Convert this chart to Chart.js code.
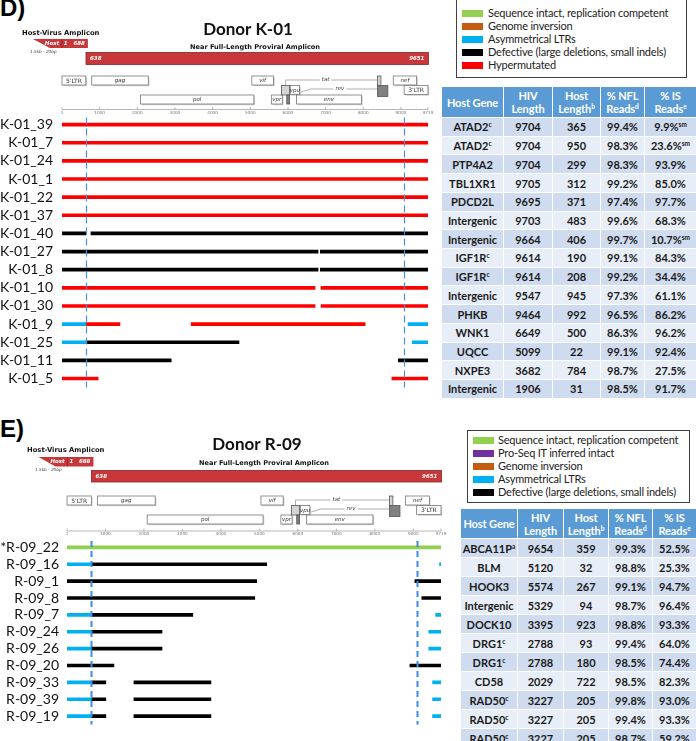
<!DOCTYPE html>
<html>
<head>
<meta charset="utf-8">
<script src="https://cdn.jsdelivr.net/npm/chart.js@4.4.1/dist/chart.umd.min.js"></script>
<style>
  body { margin: 0; width: 696px; height: 741px; overflow: hidden; background: #fff; position: relative; font-family: Lato, sans-serif; }
  canvas { position: absolute; left: 0; }
  .tag { position: absolute; left: 0; font: bold 24px "Liberation Sans", Arial, sans-serif; line-height: 24px; color: #000; }
  .legend { position: absolute; border: 1.5px solid #404040; box-sizing: border-box; background: #fff; }
  .legend .item { position: absolute; font: 11px Lato, sans-serif; letter-spacing: -0.2px; color: #222; white-space: nowrap; line-height: 13px; }
  .legend .sw { position: absolute; width: 21px; height: 7px; }
  table { position: absolute; border-collapse: collapse; table-layout: fixed; font-family: Lato, sans-serif; }
  th { background: #5b9bd5; color: #fff; font-weight: bold; font-size: 11px; letter-spacing: -0.1px; line-height: 13px; padding: 0; border: 1px solid #fff; white-space: nowrap; }
  td { font-weight: bold; font-size: 11px; color: #1a1a1a; text-align: center; padding: 0; border: 1px solid #fff; white-space: nowrap; }
  sup { font-size: 6.5px; line-height: 0; vertical-align: 4px; }
</style>
</head>
<body>
<div class="tag" style="top:-4px">D)</div>
<div class="tag" style="top:417px">E)</div>
<canvas id="k01" width="440" height="405" style="top:0"></canvas>
<canvas id="r09" width="455" height="321" style="top:420px"></canvas>
<div id="legendK"></div>
<div id="legendR"></div>
<div id="tableK"></div>
<div id="tableR"></div>

<script>
// ---- genome coordinates (HXB2) ----
const axisTicks = [1, 1000, 2000, 3000, 4000, 5000, 6000, 7000, 8000, 9000, 9719]
const ltrBoundaries = [634, 9086]
const hostAmplicon = [1, 688]
const nflAmplicon = [638, 9651]

const geneNames = ["5'LTR", 'gag', 'pol', 'vif', 'vpr', 'vpu', 'env', 'nef', "3'LTR"]
const geneStart = [1, 790, 2085, 5041, 5559, 6062, 6225, 8797, 9086]
const geneEnd = [634, 2292, 5096, 5619, 5850, 6310, 7950, 9417, 9719]
const geneRow = [0, 0, 2, 0, 2, 1, 2, 0, 1]

const exonNames = ['tat', 'tat', 'rev', 'rev']
const exonStart = [5831, 8379, 5970, 8379]
const exonEnd = [6045, 8469, 6045, 8653]

// ---- Donor K-01 ----
const k01Rows = ['K-01_39', 'K-01_7', 'K-01_24', 'K-01_1', 'K-01_22', 'K-01_37', 'K-01_40', 'K-01_27',
  'K-01_8', 'K-01_10', 'K-01_30', 'K-01_9', 'K-01_25', 'K-01_11', 'K-01_5']
const k01Segments = [
  [[1, 9719, 'hyper']],
  [[1, 9719, 'hyper']],
  [[1, 9719, 'hyper']],
  [[1, 9719, 'hyper']],
  [[1, 9719, 'hyper']],
  [[1, 9719, 'hyper']],
  [[1, 640, 'defective'], [770, 9719, 'defective']],
  [[1, 6800, 'defective'], [6860, 9719, 'defective']],
  [[1, 6800, 'defective'], [6860, 9719, 'defective']],
  [[1, 6720, 'hyper'], [6880, 9719, 'hyper']],
  [[1, 6720, 'hyper'], [6880, 9719, 'hyper']],
  [[1, 634, 'asym'], [634, 1540, 'hyper'], [3430, 8050, 'hyper'], [9190, 9719, 'asym']],
  [[1, 634, 'asym'], [634, 4700, 'defective'], [9300, 9719, 'asym']],
  [[1, 2900, 'defective'], [8930, 9719, 'defective']],
  [[1, 960, 'hyper'], [8760, 9719, 'hyper']]
]
const k01HostGene = ['ATAD2', 'ATAD2', 'PTP4A2', 'TBL1XR1', 'PDCD2L', 'Intergenic', 'Intergenic', 'IGF1R',
  'IGF1R', 'Intergenic', 'PHKB', 'WNK1', 'UQCC', 'NXPE3', 'Intergenic']
const k01GeneNote = ['c', 'c', '', '', '', '', '', 'c', 'c', '', '', '', '', '', '']
const k01HivLength = [9704, 9704, 9704, 9705, 9695, 9703, 9664, 9614, 9614, 9547, 9464, 6649, 5099, 3682, 1906]
const k01HostLength = [365, 950, 299, 312, 371, 483, 406, 190, 208, 945, 992, 500, 22, 784, 31]
const k01NflReads = [99.4, 98.3, 98.3, 99.2, 97.4, 99.6, 99.7, 99.1, 99.2, 97.3, 96.5, 86.3, 99.1, 98.7, 98.5]
const k01IsReads = [9.9, 23.6, 93.9, 85.0, 97.7, 68.3, 10.7, 84.3, 34.4, 61.1, 86.2, 96.2, 92.4, 27.5, 91.7]
const k01IsNote = ['sm', 'sm', '', '', '', '', 'sm', '', '', '', '', '', '', '', '']
const k01LegendTypes = ['intact', 'inversion', 'asym', 'defective', 'hyper']

// ---- Donor R-09 ----
const r09Rows = ['*R-09_22', 'R-09_16', 'R-09_1', 'R-09_8', 'R-09_7', 'R-09_24', 'R-09_26', 'R-09_20',
  'R-09_33', 'R-09_39', 'R-09_19']
const r09Segments = [
  [[1, 9719, 'intact']],
  [[1, 634, 'asym'], [634, 5190, 'defective'], [9680, 9719, 'asym']],
  [[1, 4930, 'defective'], [9040, 9719, 'defective']],
  [[1, 4880, 'defective'], [9220, 9719, 'defective']],
  [[1, 634, 'asym'], [634, 3270, 'defective'], [9580, 9719, 'asym']],
  [[1, 634, 'asym'], [634, 2470, 'defective'], [9400, 9719, 'asym']],
  [[1, 634, 'asym'], [634, 2470, 'defective'], [9400, 9719, 'asym']],
  [[1, 1220, 'defective'], [8910, 9719, 'defective']],
  [[1, 634, 'asym'], [634, 1010, 'defective'], [1740, 3740, 'defective'], [9500, 9719, 'asym']],
  [[1, 634, 'asym'], [634, 1010, 'defective'], [1740, 3740, 'defective'], [9500, 9719, 'asym']],
  [[1, 634, 'asym'], [634, 1010, 'defective'], [1740, 3740, 'defective'], [9500, 9719, 'asym']]
]
const r09HostGene = ['ABCA11P', 'BLM', 'HOOK3', 'Intergenic', 'DOCK10', 'DRG1', 'DRG1', 'CD58', 'RAD50', 'RAD50', 'RAD50']
const r09GeneNote = ['a', '', '', '', '', 'c', 'c', '', 'c', 'c', 'c']
const r09HivLength = [9654, 5120, 5574, 5329, 3395, 2788, 2788, 2029, 3227, 3227, 3227]
const r09HostLength = [359, 32, 267, 94, 923, 93, 180, 722, 205, 205, 205]
const r09NflReads = [99.3, 98.8, 99.1, 98.7, 98.8, 99.4, 98.5, 98.5, 99.8, 99.4, 98.7]
const r09IsReads = [52.5, 25.3, 94.7, 96.4, 93.3, 64.0, 74.4, 82.3, 93.0, 93.3, 59.2]
const r09IsNote = ['', '', '', '', '', '', '', '', '', '', '']
const r09LegendTypes = ['intact', 'proseq', 'inversion', 'asym', 'defective']

const typeLabels = {
  intact: 'Sequence intact, replication competent',
  proseq: 'Pro-Seq IT inferred intact',
  inversion: 'Genome inversion',
  asym: 'Asymmetrical LTRs',
  defective: 'Defective (large deletions, small indels)',
  hyper: 'Hypermutated'
}
const typeColours = {
  intact: '#92d050', proseq: '#7030a0', inversion: '#c55a11',
  asym: '#00b0f0', defective: '#000000', hyper: '#ff0000'
}

// draws the header, amplicons and HXB2 genome map above the proviral lines
const genomeMap = {
  id: 'genomeMap',
  beforeDatasetsDraw(chart, args, o) {
    const ctx = chart.ctx
    const x = chart.scales.x
    const area = chart.chartArea
    const px = v => x.getPixelForValue(v)
    const mid = (area.left + area.right) / 2
    ctx.save()

    ctx.fillStyle = '#111'
    ctx.textBaseline = 'middle'
    ctx.textAlign = 'center'
    ctx.font = 'bold 17px Lato'
    ctx.fillText(o.title, mid + 3, o.titleY)
    ctx.font = 'bold 6.6px "DejaVu Sans"'
    ctx.fillText('Near Full-Length Proviral Amplicon', mid + 10, o.nflTitleY)
    ctx.textAlign = 'left'
    ctx.font = 'bold 6.8px "DejaVu Sans"'
    ctx.fillText('Host-Virus Amplicon', area.left - 40, o.hostLabelY)
    ctx.font = 'italic 4.2px "DejaVu Sans"'
    ctx.fillStyle = '#444'
    ctx.fillText('1.5kb - 20bp', area.left - 32, o.kbY)

    // host-virus amplicon
    const hr = px(hostAmplicon[1])
    ctx.fillStyle = '#c8373a'
    ctx.beginPath()
    ctx.moveTo(hr - 55, o.hostTop)
    ctx.lineTo(hr, o.hostTop)
    ctx.lineTo(hr, o.hostBottom)
    ctx.lineTo(hr - 38, o.hostBottom)
    ctx.closePath()
    ctx.fill()
    ctx.strokeStyle = '#7a1d1d'
    ctx.lineWidth = 0.6
    ctx.beginPath()
    ctx.moveTo(hr - 26, o.hostTop)
    ctx.lineTo(hr - 26, o.hostBottom)
    ctx.stroke()
    ctx.fillStyle = '#fff'
    ctx.font = 'italic bold 5.5px "DejaVu Sans"'
    const hm = (o.hostTop + o.hostBottom) / 2
    ctx.fillText('Host', hr - 43, hm)
    ctx.fillText(String(hostAmplicon[0]), hr - 24, hm)
    ctx.textAlign = 'right'
    ctx.fillText(String(hostAmplicon[1]), hr - 3, hm)

    // near full-length amplicon
    const n0 = px(nflAmplicon[0]), n1 = px(nflAmplicon[1]) + 3
    ctx.fillStyle = '#c8373a'
    ctx.fillRect(n0, o.nflTop, n1 - n0, o.nflBottom - o.nflTop)
    ctx.strokeStyle = '#8a2222'
    ctx.lineWidth = 0.8
    ctx.strokeRect(n0, o.nflTop, n1 - n0, o.nflBottom - o.nflTop)
    ctx.fillStyle = '#fff'
    const nm = (o.nflTop + o.nflBottom) / 2
    ctx.fillText(String(nflAmplicon[1]), n1 - 4, nm)
    ctx.textAlign = 'left'
    ctx.fillText(String(nflAmplicon[0]), n0 + 4, nm)

    // genome map
    const rowTop = [o.mapTop, o.mapTop + 9.5, o.mapTop + 19]
    const rowH = 9
    ctx.strokeStyle = '#9a9a9a'
    ctx.lineWidth = 0.8
    // tat / rev splice lines
    ctx.beginPath()
    ctx.moveTo(px(5938), rowTop[1])
    ctx.lineTo(px(5938), rowTop[0] + 4)
    ctx.lineTo(px(exonStart[1]), rowTop[0] + 4)
    ctx.moveTo(px(6045) + 2, rowTop[2])
    ctx.lineTo(px(6600), rowTop[1] + 3.5)
    ctx.lineTo(px(exonStart[3]), rowTop[1] + 3.5)
    ctx.stroke()
    ctx.font = 'italic 5.5px "DejaVu Sans"'
    ctx.textAlign = 'center'
    ;[[7000, rowTop[0] + 4, exonNames[0]], [7380, rowTop[1] + 3.5, exonNames[2]]].forEach(([v, y, t]) => {
      const w = ctx.measureText(t).width + 4
      ctx.fillStyle = '#fff'
      ctx.fillRect(px(v) - w / 2, y - 3, w, 6)
      ctx.fillStyle = '#444'
      ctx.fillText(t, px(v), y)
    })

    geneNames.forEach((g, i) => {
      const x0 = px(geneStart[i]), x1 = px(geneEnd[i]), t = rowTop[geneRow[i]]
      ctx.fillStyle = '#cfcfcf'
      ctx.fillRect(x0 + 1.2, t + 1.2, x1 - x0, rowH)
      ctx.fillStyle = '#fff'
      ctx.fillRect(x0, t, x1 - x0, rowH)
      ctx.strokeStyle = '#777'
      ctx.strokeRect(x0, t, x1 - x0, rowH)
      ctx.fillStyle = '#333'
      ctx.font = g.includes('LTR') ? '6px "DejaVu Sans"' : 'italic 5.5px "DejaVu Sans"'
      ctx.fillText(g, (x0 + x1) / 2, t + rowH / 2 + 0.5)
    })

    // tat / rev exons
    const exonBox = [
      [rowTop[1], rowH + 0.5, '#d4d4d4'],
      [rowTop[0], rowH + 1, '#d4d4d4'],
      [rowTop[2], rowH, '#808080'],
      [rowTop[1], rowH + 2, '#808080']
    ]
    exonNames.forEach((e, i) => {
      const x0 = px(exonStart[i]), x1 = px(exonEnd[i])
      const [t, h, c] = exonBox[i]
      ctx.fillStyle = c
      ctx.fillRect(x0, t, x1 - x0, h)
      ctx.strokeStyle = '#555'
      ctx.strokeRect(x0, t, x1 - x0, h)
    })

    // coordinate axis
    ctx.strokeStyle = '#999'
    ctx.lineWidth = 0.7
    ctx.beginPath()
    ctx.moveTo(px(axisTicks[0]), o.axisY)
    ctx.lineTo(px(axisTicks[axisTicks.length - 1]), o.axisY)
    axisTicks.forEach(v => {
      ctx.moveTo(px(v), o.axisY - 2.5)
      ctx.lineTo(px(v), o.axisY)
    })
    ctx.stroke()
    ctx.fillStyle = '#777'
    ctx.font = '4.2px "DejaVu Sans"'
    axisTicks.forEach(v => ctx.fillText(String(v), px(v), o.axisY + 3))
    ctx.restore()
  },
  afterDatasetsDraw(chart, args, o) {
    const ctx = chart.ctx
    const x = chart.scales.x
    const area = chart.chartArea
    ctx.save()
    ctx.strokeStyle = o.dashColour
    ctx.lineWidth = o.dashWidth
    ctx.setLineDash(o.dash)
    ltrBoundaries.forEach(v => {
      const xp = Math.round(x.getPixelForValue(v)) + 0.5
      ctx.beginPath()
      ctx.moveTo(xp, area.top + 2)
      ctx.lineTo(xp, area.bottom)
      ctx.stroke()
    })
    ctx.restore()
  }
}

function buildPanel(id, rows, segments, panel) {
  const slots = Math.max(...segments.map(s => s.length))
  const datasets = []
  for (let i = 0; i < slots; i++) {
    datasets.push({
      data: segments.map(s => s[i] ? [s[i][0], s[i][1]] : null),
      backgroundColor: segments.map(s => s[i] ? typeColours[s[i][2]] : 'transparent'),
      barThickness: 3,
      grouped: false,
      borderSkipped: false
    })
  }
  new Chart(document.getElementById(id), {
    type: 'bar',
    data: { labels: rows, datasets: datasets },
    options: {
      indexAxis: 'y',
      responsive: false,
      animation: false,
      layout: { padding: { top: panel.top, right: panel.right, bottom: panel.bottom, left: 0 } },
      plugins: {
        legend: { display: false },
        tooltip: { enabled: false },
        genomeMap: panel.map
      },
      scales: {
        x: { type: 'linear', min: 1, max: 9719, display: false },
        y: {
          grid: { display: false, drawTicks: false },
          border: { display: false },
          ticks: { autoSkip: false, font: { family: 'Lato', size: 14 }, color: '#111', padding: panel.labelPad },
          afterFit(scale) { scale.width = panel.left }
        }
      }
    },
    plugins: [genomeMap]
  })
}

buildPanel('k01', k01Rows, k01Segments, {
  top: 115.5, bottom: 3.5, right: 12, left: 62, labelPad: 9,
  map: {
    title: 'Donor K-01', titleY: 30, nflTitleY: 47, hostLabelY: 33, kbY: 52,
    hostTop: 39, hostBottom: 48, nflTop: 52.5, nflBottom: 64.5, mapTop: 76, axisY: 109.5,
    dashColour: '#4a90d9', dashWidth: 1.2, dash: [7, 4]
  }
})
buildPanel('r09', r09Rows, r09Segments, {
  top: 118.9, bottom: 1.9, right: 14, left: 67, labelPad: 8,
  map: {
    title: 'Donor R-09', titleY: 25, nflTitleY: 43, hostLabelY: 30, kbY: 50,
    hostTop: 37, hostBottom: 46.5, nflTop: 50.5, nflBottom: 62, mapTop: 76, axisY: 111,
    dashColour: '#3a8ee6', dashWidth: 2, dash: [6, 4]
  }
})

function buildLegend(id, types, box, rowY, swLeft, textLeft) {
  const el = document.getElementById(id)
  el.className = 'legend'
  Object.assign(el.style, { left: box[0] + 'px', top: box[1] + 'px', width: box[2] + 'px', height: box[3] + 'px' })
  types.forEach((t, i) => {
    const sw = document.createElement('div')
    sw.className = 'sw'
    sw.style.background = typeColours[t]
    sw.style.left = (swLeft - box[0]) + 'px'
    sw.style.top = (rowY[i] - box[1] - 4.5) + 'px'
    el.appendChild(sw)
    const tx = document.createElement('div')
    tx.className = 'item'
    tx.textContent = typeLabels[t]
    tx.style.left = (textLeft - box[0]) + 'px'
    tx.style.top = (rowY[i] - box[1] - 8) + 'px'
    el.appendChild(tx)
  })
}
buildLegend('legendK', k01LegendTypes, [456, -1, 231, 79], [13, 26, 39, 52, 65], 461, 487)
buildLegend('legendR', r09LegendTypes, [467, 430, 223, 73], [440, 453, 466, 479, 492], 472, 497)

function buildTable(id, pos, widths, headH, rowH, genes, geneNote, hiv, host, nfl, is, isNote) {
  const head = ['Host Gene', 'HIV<br>Length', 'Host<br>Length<sup>b</sup>', '% NFL<br>Reads<sup>d</sup>', '% IS<br>Reads<sup>e</sup>']
  let html = '<colgroup>' + widths.map(w => `<col style="width:${w}px">`).join('') + '</colgroup>'
  html += `<tr style="height:${headH}px">` + head.map(h => `<th>${h}</th>`).join('') + '</tr>'
  genes.forEach((g, i) => {
    const bg = i % 2 === 0 ? '#cfdbee' : '#e8eef7'
    const cells = [
      g + (geneNote[i] ? `<sup>${geneNote[i]}</sup>` : ''),
      hiv[i], host[i],
      nfl[i].toFixed(1) + '%',
      is[i].toFixed(1) + '%' + (isNote[i] ? `<sup>${isNote[i]}</sup>` : '')
    ]
    html += `<tr style="height:${rowH}px;background:${bg}">` + cells.map(c => `<td>${c}</td>`).join('') + '</tr>'
  })
  const t = document.createElement('table')
  t.innerHTML = html
  Object.assign(t.style, { left: pos[0] + 'px', top: pos[1] + 'px', width: widths.reduce((a, b) => a + b, 0) + 'px' })
  document.getElementById(id).appendChild(t)
}
buildTable('tableK', [441, 86], [62, 49, 48, 44, 52], 31, 18.73,
  k01HostGene, k01GeneNote, k01HivLength, k01HostLength, k01NflReads, k01IsReads, k01IsNote)
buildTable('tableR', [460, 508], [57, 46, 45, 44, 44], 30, 19,
  r09HostGene, r09GeneNote, r09HivLength, r09HostLength, r09NflReads, r09IsReads, r09IsNote)
</script>
</body>
</html>
